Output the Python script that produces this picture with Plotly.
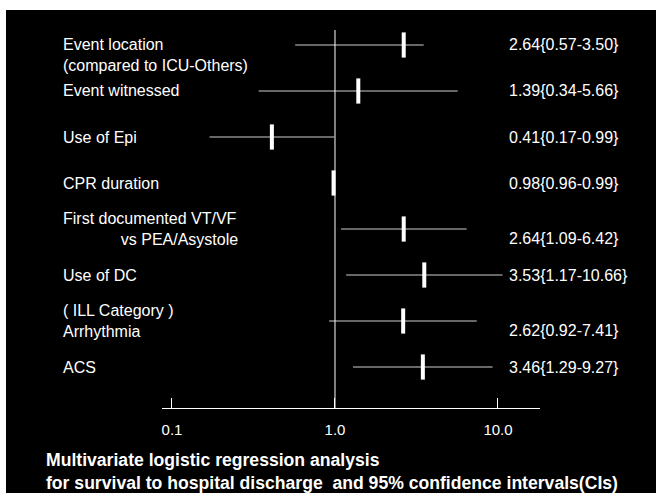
import plotly.graph_objects as go

# ---- data ----
labels = [
    "Event location<br>(compared to ICU-Others)",
    "Event witnessed",
    "Use of Epi",
    "CPR duration",
    "First documented VT/VF<br>" + "\u00a0" * 13 + "vs PEA/Asystole",
    "Use of DC",
    "( ILL Category )<br>Arrhythmia",
    "ACS",
]
odds_ratio = [2.64, 1.39, 0.41, 0.98, 2.64, 3.53, 2.62, 3.46]
ci_low = [0.57, 0.34, 0.17, 0.96, 1.09, 1.17, 0.92, 1.29]
ci_high = [3.50, 5.66, 0.99, 0.99, 6.42, 10.66, 7.41, 9.27]
value_text = [
    "2.64{0.57-3.50}",
    "1.39{0.34-5.66}",
    "0.41{0.17-0.99}",
    "0.98{0.96-0.99}",
    "2.64{1.09-6.42}",
    "3.53{1.17-10.66}",
    "2.62{0.92-7.41}",
    "3.46{1.29-9.27}",
]
tick_vals = [0.1, 1, 10]
tick_text = ["0.1", "1.0", "10.0"]
title_lines = [
    "Multivariate logistic regression analysis",
    "for survival to hospital discharge  and 95% confidence intervals(CIs)",
]

# ---- styling ----
W, H = 656, 493
FONT = "Liberation Sans, Arial, sans-serif"
label_anchor = ["top", "middle", "middle", "middle", "middle", "middle", "middle", "middle"]
label_shift = [11, 0, 0, 0, 0, 0, 0, 0]
value_shift = [0, 0, 0, 0, -9, 0, -9, 0]

rows = [f"r{i}" for i in range(len(labels))]

fig = go.Figure()
fig.add_trace(go.Scatter(
    x=odds_ratio,
    y=rows,
    mode="markers",
    marker=dict(symbol="line-ns", size=18, color="white",
                line=dict(color="white", width=4)),
    error_x=dict(type="data", symmetric=False,
                 array=[h - o for h, o in zip(ci_high, odds_ratio)],
                 arrayminus=[o - l for o, l in zip(odds_ratio, ci_low)],
                 color="#cfcfcf", thickness=1, width=0),
    showlegend=False,
    hoverinfo="skip",
))

annotations = []
for i, r in enumerate(rows):
    annotations.append(dict(
        x=61 / W, xref="paper", y=r, yref="y", text=labels[i],
        xanchor="left", yanchor=label_anchor[i], yshift=label_shift[i],
        align="left", showarrow=False,
        font=dict(family=FONT, size=16, color="white"),
    ))
    annotations.append(dict(
        x=507 / W, xref="paper", y=r, yref="y", text=value_text[i],
        xanchor="left", yanchor="middle", yshift=value_shift[i],
        align="left", showarrow=False,
        font=dict(family=FONT, size=16, color="white"),
    ))
annotations.append(dict(
    x=44 / W, xref="paper", y=1 - 448 / H, yref="paper",
    text="<b>" + "<br>".join(title_lines) + "</b>",
    xanchor="left", yanchor="top", align="left", showarrow=False,
    font=dict(family=FONT, size=17.6, color="white"),
))

shapes = [
    dict(type="rect", xref="paper", yref="paper", x0=6 / W, x1=1, y0=0, y1=1 - 10 / H,
         fillcolor="black", line=dict(width=0), layer="below"),
    dict(type="line", xref="x", yref="y domain", x0=1, x1=1, y0=0, y1=1,
         line=dict(color="white", width=1)),
]

fig.update_layout(
    width=W, height=H,
    margin=dict(l=0, r=0, t=0, b=0),
    paper_bgcolor="white",
    plot_bgcolor="rgba(0,0,0,0)",
    annotations=annotations,
    shapes=shapes,
    xaxis=dict(
        type="log",
        domain=[162 / W, 540 / W],
        range=[-1.0613, 1.2577],
        tickvals=tick_vals, ticktext=tick_text,
        ticks="inside", ticklen=10, tickcolor="white", tickwidth=1,
        showline=True, linecolor="white", linewidth=1,
        showgrid=False, zeroline=False,
        tickfont=dict(family=FONT, size=15, color="white"),
        ticklabelstandoff=8,
    ),
    yaxis=dict(
        type="category",
        categoryorder="array", categoryarray=rows,
        domain=[1 - 408 / H, 1 - 30 / H],
        range=[7.891, -0.326],
        showticklabels=False, showgrid=False, zeroline=False, showline=False,
        ticks="",
    ),
)

fig.write_html("out.html")
